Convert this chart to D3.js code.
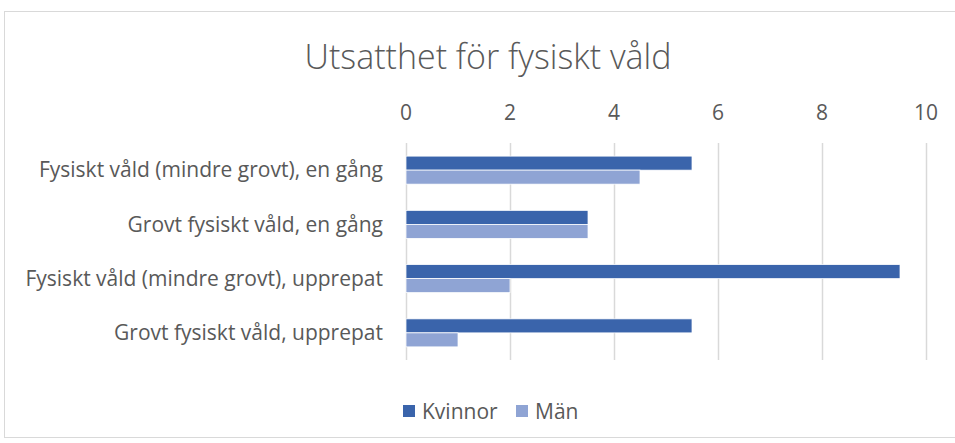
<!DOCTYPE html>
<html>
<head>
  <meta charset="UTF-8">
  <title>Utsatthet för fysiskt våld</title>
  <style>
    body { margin: 0; background: #fff; font-family: 'Open Sans', Lato, sans-serif; }
    .grid line { stroke: #d9d9d9; stroke-width: 1.5; }
    .grid path { display: none; }
    .lbl { fill: #595959; font-size: 21px; }
  </style>
</head>
<body>
<script src="https://cdnjs.cloudflare.com/ajax/libs/d3/7.8.5/d3.min.js"></script>
<script>
// data
var categories = [
  "Fysiskt våld (mindre grovt), en gång",
  "Grovt fysiskt våld, en gång",
  "Fysiskt våld (mindre grovt), upprepat",
  "Grovt fysiskt våld, upprepat"
];
var seriesNames = ["Kvinnor", "Män"];
var kvinnor = [5.5, 3.5, 9.5, 5.5];
var man = [4.5, 3.5, 2.0, 1.0];
var ticks = [0, 2, 4, 6, 8, 10];
var colors = ["#3a64ab", "#8fa4d4"];

var width = 955, height = 443;
var plot = {left: 406, right: 926, top: 143, bottom: 360};

var svg = d3.select("body").append("svg")
    .attr("width", width)
    .attr("height", height);

// chart frame
svg.append("rect")
    .attr("x", 4.5).attr("y", 11.5)
    .attr("width", 960).attr("height", 426)
    .attr("fill", "none").attr("stroke", "#d9d9d9");

svg.append("text")
    .attr("x", 488).attr("y", 69)
    .attr("text-anchor", "middle")
    .attr("fill", "#595959")
    .style("font-size", "34px")
    .style("font-weight", 300)
    .text("Utsatthet för fysiskt våld");

var x = d3.scaleLinear().domain([0, 10]).range([plot.left, plot.right]);
var y = d3.scaleBand().domain(categories).range([plot.top, plot.bottom]).paddingInner(0).paddingOuter(0);
var inner = d3.scaleBand().domain(seriesNames).range([0, 28]);

// gridlines
svg.append("g").attr("class", "grid")
    .attr("transform", "translate(0," + plot.top + ")")
    .call(d3.axisBottom(x).tickValues(ticks).tickSize(plot.bottom - plot.top).tickFormat(""));

// tick labels on top
svg.selectAll(".tick-lbl")
    .data(ticks)
    .enter().append("text")
    .attr("class", "lbl")
    .attr("x", function(d) { return x(d); })
    .attr("y", 120)
    .attr("text-anchor", "middle")
    .text(function(d) { return d; });

// category labels
svg.selectAll(".cat-lbl")
    .data(categories)
    .enter().append("text")
    .attr("class", "lbl")
    .attr("x", 383)
    .attr("y", function(d) { return y(d) + y.bandwidth() / 2; })
    .attr("dy", "0.35em")
    .attr("text-anchor", "end")
    .text(function(d) { return d; });

// bars
var rows = categories.map(function(c, i) {
  return {cat: c, vals: [{s: "Kvinnor", v: kvinnor[i]}, {s: "Män", v: man[i]}]};
});
var groups = svg.selectAll(".grp")
    .data(rows)
    .enter().append("g")
    .attr("transform", function(d) { return "translate(0," + (y(d.cat) + (y.bandwidth() - 28) / 2) + ")"; });
groups.selectAll("rect")
    .data(function(d) { return d.vals; })
    .enter().append("rect")
    .attr("x", x(0))
    .attr("y", function(d) { return inner(d.s); })
    .attr("width", function(d) { return x(d.v) - x(0); })
    .attr("height", inner.bandwidth())
    .attr("fill", function(d, i) { return colors[i]; })
    .attr("stroke", "#fff")
    .attr("stroke-width", 0.75);

// legend
var legend = svg.append("g");
var lx = [403, 516];
seriesNames.forEach(function(s, i) {
  legend.append("rect")
      .attr("x", lx[i]).attr("y", 405)
      .attr("width", 12).attr("height", 12)
      .attr("fill", colors[i]);
  legend.append("text")
      .attr("class", "lbl")
      .attr("x", lx[i] + 19).attr("y", 419)
      .text(s);
});
</script>
</body>
</html>
